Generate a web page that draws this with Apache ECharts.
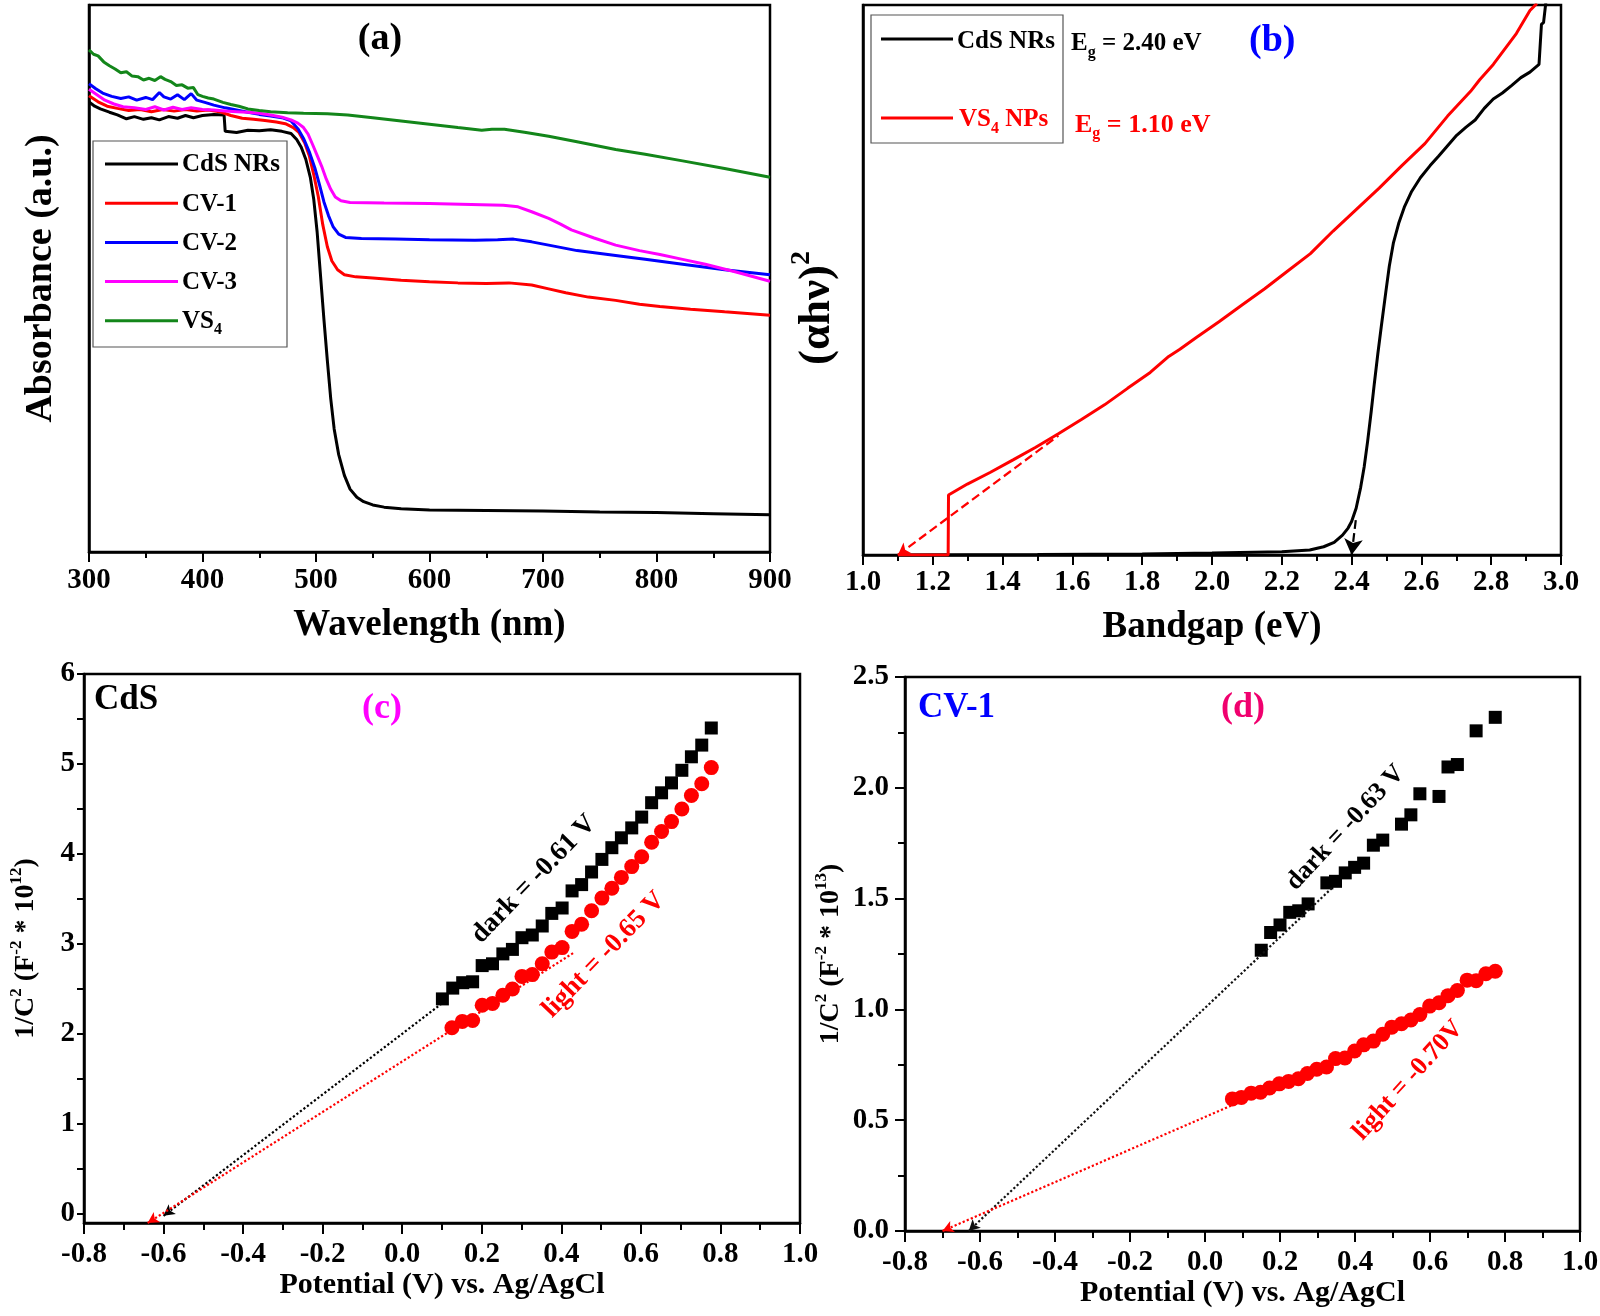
<!DOCTYPE html>
<html>
<head>
<meta charset="utf-8">
<title>CdS / VS4 optical and Mott-Schottky</title>
<script src="https://cdn.jsdelivr.net/npm/echarts@6/dist/echarts.min.js"></script>
<style>
html, body { margin: 0; padding: 0; background: #fff; }
#main { width: 1600px; height: 1316px; }
</style>
</head>
<body>
<div id="main"></div>
<script>
// ---- (a) UV-vis absorbance, [wavelength nm, absorbance a.u.] ----
var absCdS = [[300,82.3],[305,81.5],[310,81.0],[318,80.4],[325,79.9],[333,79.2],[340,79.6],[348,79.1],[355,79.4],[362,79.0],[370,79.6],[378,79.3],[385,79.8],[392,79.4],[400,79.8],[410,80.0],[419,79.9],[420,76.9],[430,76.7],[440,77.1],[450,77.0],[460,77.2],[470,76.9],[478,76.5],[483,75.4],[487,74.0],[491,71.8],[495,68.5],[498,64.5],[501,58.5],[504,50.5],[507,42.5],[510,35.0],[513,28.0],[516,22.5],[520,17.8],[525,14.0],[530,11.5],[536,10.0],[542,9.2],[550,8.6],[560,8.2],[575,7.9],[600,7.7],[650,7.6],[700,7.5],[750,7.3],[800,7.2],[850,7.0],[900,6.8]];
var absCV1 = [[300,83.4],[308,82.3],[316,81.5],[325,81.1],[335,80.7],[345,80.9],[355,80.5],[365,80.9],[375,80.6],[385,80.9],[395,80.6],[405,80.8],[415,80.5],[425,79.8],[435,79.3],[445,79.1],[455,78.9],[465,78.6],[473,78.3],[480,77.6],[485,76.7],[490,74.8],[494,72.5],[498,69.0],[502,65.0],[506,59.8],[510,55.8],[514,53.2],[519,51.6],[525,50.7],[535,50.3],[550,50.1],[575,49.7],[600,49.4],[625,49.2],[650,49.1],[670,49.2],[690,48.8],[705,48.1],[720,47.4],[740,46.6],[764,46.0],[785,45.3],[803,44.9],[830,44.4],[860,43.9],[900,43.3]];
var absCV2 = [[300,85.6],[306,84.7],[312,83.9],[320,83.3],[328,82.9],[335,83.2],[342,82.6],[350,83.1],[356,82.7],[362,84.0],[366,83.2],[372,82.8],[378,83.6],[384,82.7],[390,83.8],[395,82.6],[402,82.2],[410,81.7],[420,81.2],[430,80.8],[440,80.4],[450,80.0],[460,79.7],[470,79.4],[478,78.8],[484,77.4],[489,75.6],[494,73.2],[499,70.2],[503,67.2],[507,64.0],[511,61.5],[515,59.5],[520,58.1],[526,57.5],[540,57.3],[570,57.2],[600,57.1],[640,57.0],[660,57.1],[674,57.2],[690,56.7],[705,56.1],[730,55.1],[764,54.2],[790,53.5],[823,52.6],[860,51.6],[900,50.7]];
var absCV3 = [[300,84.6],[307,83.6],[314,82.6],[322,81.9],[330,81.4],[340,81.2],[350,80.9],[358,81.4],[366,80.8],[374,81.3],[382,80.9],[390,81.2],[400,80.9],[410,80.8],[420,80.6],[430,80.5],[440,80.4],[450,80.2],[460,79.9],[470,79.5],[478,79.0],[484,78.4],[489,77.6],[493,76.4],[497,74.5],[501,72.5],[505,70.5],[509,68.2],[513,66.3],[517,64.9],[522,64.2],[530,63.9],[560,63.8],[600,63.7],[646,63.5],[665,63.4],[678,63.1],[690,62.2],[705,61.0],[715,60.0],[725,58.9],[745,57.4],[764,56.1],[785,55.1],[803,54.4],[823,53.5],[843,52.6],[870,51.2],[900,49.5]];
var absVS4 = [[300,91.8],[304,91.0],[308,90.7],[313,89.6],[318,88.9],[323,88.3],[328,87.6],[333,87.8],[338,87.0],[343,86.9],[348,86.3],[353,86.6],[358,86.2],[363,86.9],[367,86.4],[372,86.0],[377,85.3],[382,85.4],[387,84.8],[392,84.9],[396,83.6],[400,83.3],[405,83.0],[410,82.8],[418,82.2],[425,81.8],[432,81.5],[440,81.0],[450,80.7],[460,80.5],[475,80.3],[489,80.2],[510,80.1],[528,79.9],[550,79.4],[575,78.8],[600,78.2],[625,77.6],[646,77.1],[655,77.3],[666,77.3],[685,76.7],[705,76.0],[730,75.0],[764,73.6],[790,72.7],[823,71.5],[860,70.1],[900,68.5]];
var namesA = ['CdS NRs', 'CV-1', 'CV-2', 'CV-3', 'VS{sub|4}'];
var colorsA = ['#000000', '#ff0000', '#0000ff', '#ff00ff', '#13861a'];

// ---- (b) Tauc plot, [photon energy eV, (ahv)^2] ----
var taucCdS = [[1.10,0.0],[1.50,0.1],[1.80,0.2],[2.00,0.35],[2.20,0.6],[2.28,0.9],[2.32,1.5],[2.35,2.3],[2.374,3.6],[2.39,4.9],[2.40,6.1],[2.413,8.5],[2.426,12.3],[2.436,16.0],[2.446,20.7],[2.456,26.0],[2.465,31.1],[2.475,36.5],[2.485,41.5],[2.498,47.8],[2.508,52.5],[2.520,56.8],[2.535,60.3],[2.552,63.4],[2.572,66.1],[2.597,68.6],[2.625,70.8],[2.649,72.5],[2.675,74.4],[2.701,76.3],[2.728,77.8],[2.754,79.1],[2.780,81.2],[2.806,82.9],[2.832,84.0],[2.859,85.4],[2.885,86.8],[2.911,87.8],[2.937,89.2],[2.944,96.5],[2.950,96.8],[2.957,100.7]];
var taucVS4 = [[1.10,0.0],[1.244,0.0],[1.245,10.9],[1.299,12.9],[1.364,15.0],[1.430,17.3],[1.495,19.6],[1.561,22.1],[1.627,24.7],[1.692,27.3],[1.758,30.3],[1.823,33.2],[1.876,36.1],[1.908,37.4],[1.954,39.5],[2.020,42.4],[2.085,45.4],[2.151,48.4],[2.216,51.6],[2.282,54.8],[2.347,58.9],[2.413,62.8],[2.479,66.7],[2.544,70.8],[2.610,74.8],[2.675,79.8],[2.741,84.3],[2.767,86.4],[2.806,89.2],[2.872,94.8],[2.911,99.0],[2.931,100.3]];
var fitCdS = [[2.40,0],[2.413,6.9]];
var fitVS4 = [[1.10,0],[1.56,21.7]];

// ---- (c) CdS Mott-Schottky, [potential V, 1/C^2 x1e12] ----
var msCdSDark = [[0.101,2.39],[0.127,2.51],[0.152,2.57],[0.177,2.58],[0.201,2.76],[0.227,2.78],[0.253,2.89],[0.277,2.94],[0.301,3.07],[0.327,3.10],[0.352,3.20],[0.376,3.34],[0.402,3.40],[0.427,3.59],[0.451,3.66],[0.476,3.80],[0.502,3.94],[0.527,4.07],[0.551,4.18],[0.577,4.29],[0.602,4.41],[0.627,4.57],[0.652,4.68],[0.677,4.79],[0.703,4.93],[0.727,5.08],[0.753,5.21],[0.777,5.40]];
var msCdSLight = [[0.125,2.07],[0.151,2.14],[0.177,2.15],[0.201,2.32],[0.227,2.34],[0.253,2.43],[0.277,2.50],[0.301,2.64],[0.327,2.66],[0.352,2.78],[0.376,2.91],[0.402,2.96],[0.427,3.14],[0.451,3.22],[0.476,3.37],[0.502,3.51],[0.527,3.62],[0.551,3.74],[0.577,3.86],[0.602,3.97],[0.627,4.13],[0.652,4.25],[0.677,4.36],[0.703,4.50],[0.727,4.65],[0.753,4.78],[0.777,4.96]];
var fitCdSDark = [[-0.60,-0.02],[0.10,2.34]];
var fitCdSLight = [[-0.64,-0.10],[0.43,2.90]];
var yTicksC = [0, 0.5, 1, 1.5, 2, 2.5, 3, 3.5, 4, 4.5, 5, 5.5, 6];
var yLabelsC = [0, 1, 2, 3, 4, 5, 6];

// ---- (d) CV-1 Mott-Schottky, [potential V, 1/C^2 x1e13] ----
var msCV1Dark = [[0.150,1.267],[0.175,1.347],[0.200,1.381],[0.226,1.438],[0.250,1.445],[0.275,1.476],[0.325,1.571],[0.348,1.578],[0.374,1.616],[0.399,1.641],[0.423,1.660],[0.449,1.741],[0.474,1.764],[0.524,1.836],[0.549,1.878],[0.573,1.973],[0.624,1.961],[0.648,2.094],[0.673,2.105],[0.723,2.257],[0.774,2.318]];
var msCV1Light = [[0.073,0.596],[0.097,0.603],[0.123,0.622],[0.148,0.626],[0.172,0.645],[0.198,0.664],[0.223,0.675],[0.249,0.687],[0.273,0.711],[0.298,0.730],[0.324,0.740],[0.348,0.778],[0.373,0.781],[0.399,0.812],[0.423,0.840],[0.449,0.857],[0.474,0.888],[0.498,0.920],[0.524,0.935],[0.549,0.952],[0.573,0.977],[0.599,1.015],[0.624,1.030],[0.648,1.062],[0.673,1.085],[0.699,1.132],[0.723,1.129],[0.749,1.161],[0.774,1.172]];
var fitCV1Dark = [[-0.63,0.0],[0.34,1.55]];
var fitCV1Light = [[-0.70,0.0],[0.47,0.86]];

var FONT = '"Liberation Serif", "Times New Roman", serif';

function tStyle(size, color) {
    return { fontFamily: FONT, fontWeight: 'bold', fontSize: size, color: color || '#000' };
}
function richSet(size, color) {
    var s = Math.round(size * 0.62);
    return {
        sub: { fontFamily: FONT, fontWeight: 'bold', fontSize: s, lineHeight: s, verticalAlign: 'bottom', color: color, fill: color },
        sup: { fontFamily: FONT, fontWeight: 'bold', fontSize: s, lineHeight: s, verticalAlign: 'top', color: color, fill: color }
    };
}
function fitLine(pts, color, type, size) {
    return {
        silent: true,
        symbol: ['arrow', 'none'],
        symbolSize: size,
        label: { show: false },
        lineStyle: { color: color, type: type, width: 2.2, opacity: 1 },
        data: [[{ coord: pts[0] }, { coord: pts[1] }]]
    };
}
function xAxis(grid, min, max, interval, name, nameGap, labelSize, nameSize, margin, tickLen, minorLen, digits) {
    return {
        gridIndex: grid, type: 'value', min: min, max: max, interval: interval,
        axisLine: { onZero: false, lineStyle: { color: '#000', width: 2.5 } },
        axisTick: { length: tickLen, lineStyle: { color: '#000', width: 2 } },
        minorTick: { show: true, splitNumber: 2, length: minorLen, lineStyle: { color: '#000', width: 2 } },
        splitLine: { show: false },
        axisLabel: Object.assign(tStyle(labelSize), { margin: margin, formatter: function (v) { return digits ? v.toFixed(digits) : String(v); } }),
        name: name, nameLocation: 'middle', nameGap: nameGap,
        nameTextStyle: tStyle(nameSize)
    };
}
function plainY(grid, name, nameGap, size) {
    return {
        gridIndex: grid, type: 'value', min: 0, max: 100,
        axisLine: { onZero: false, lineStyle: { color: '#000', width: 2.5 } },
        axisTick: { show: false }, axisLabel: { show: false }, splitLine: { show: false },
        name: name, nameLocation: 'middle', nameGap: nameGap,
        nameTextStyle: Object.assign(tStyle(size), { lineHeight: Math.round(size * 1.3), rich: richSet(size, '#000') })
    };
}
function gridBox(left, top, width, height) {
    return { left: left, top: top, width: width, height: height, containLabel: false, outerBoundsMode: 'none',
             show: true, borderColor: '#000', borderWidth: 2.5, backgroundColor: 'transparent' };
}

var seriesA = [absCdS, absCV1, absCV2, absCV3, absVS4].map(function (d, i) {
    return { name: namesA[i].replace('{sub|4}', '4'), type: 'line', xAxisIndex: 0, yAxisIndex: 0, data: d,
             showSymbol: false, lineStyle: { color: colorsA[i], width: 3 }, itemStyle: { color: colorsA[i] } };
});

var chart = echarts.init(document.getElementById('main'), null, { renderer: 'canvas' });
chart.setOption({
    animation: false,
    backgroundColor: '#fff',
    grid: [gridBox(89, 5, 681, 547), gridBox(863, 5, 698, 550), gridBox(84, 674, 716, 549), gridBox(905, 677, 675, 554)],
    xAxis: [
        xAxis(0, 300, 900, 100, 'Wavelength (nm)', 55, 29, 37, 14, 10, 6, 0),
        xAxis(1, 1.0, 3.0, 0.2, 'Bandgap (eV)', 54, 29, 37, 13, 10, 6, 1),
        xAxis(2, -0.8, 1.0, 0.2, 'Potential (V) vs. Ag/AgCl', 45, 29, 30, 17, 11, 7, 1),
        xAxis(3, -0.8, 1.0, 0.2, 'Potential (V) vs. Ag/AgCl', 45, 29, 30, 17, 11, 7, 1)
    ],
    yAxis: [
        plainY(0, 'Absorbance (a.u.)', 23, 38),
        {
            gridIndex: 1, type: 'value', min: 0, max: 100,
            axisLine: { onZero: false, lineStyle: { color: '#000', width: 2.5 } },
            axisTick: { show: false }, axisLabel: { show: false }, splitLine: { show: false },
            name: '(αhν){sup|2}', nameLocation: 'middle', nameGap: 17,
            nameTextStyle: Object.assign(tStyle(45), { lineHeight: 58, padding: [0, 56, 0, 0], rich: richSet(45, '#000') })
        },
        {
            gridIndex: 2, type: 'value', min: -0.1, max: 6,
            axisLine: { onZero: false, lineStyle: { color: '#000', width: 2.5 } },
            axisTick: { length: 7, customValues: yTicksC, lineStyle: { color: '#000', width: 2 } },
            axisLabel: Object.assign(tStyle(29), { margin: 9, customValues: yLabelsC }),
            splitLine: { show: false },
            name: '1/C{sup|2} (F{sup|-2} * 10{sup|12})', nameLocation: 'middle', nameGap: 40,
            nameTextStyle: Object.assign(tStyle(28), { lineHeight: 36, rich: richSet(28, '#000') })
        },
        {
            gridIndex: 3, type: 'value', min: 0, max: 2.5, interval: 0.5,
            axisLine: { onZero: false, lineStyle: { color: '#000', width: 2.5 } },
            axisTick: { length: 10, lineStyle: { color: '#000', width: 2 } },
            minorTick: { show: true, splitNumber: 2, length: 7, lineStyle: { color: '#000', width: 2 } },
            axisLabel: Object.assign(tStyle(29), { margin: 16, formatter: function (v) { return v.toFixed(1); } }),
            splitLine: { show: false },
            name: '1/C{sup|2} (F{sup|-2} * 10{sup|13})', nameLocation: 'middle', nameGap: 40,
            nameTextStyle: Object.assign(tStyle(28), { lineHeight: 36, rich: richSet(28, '#000') })
        }
    ],
    series: seriesA.concat([
        { name: 'CdS NRs', type: 'line', xAxisIndex: 1, yAxisIndex: 1, data: taucCdS, showSymbol: false,
          lineStyle: { color: '#000', width: 3 }, itemStyle: { color: '#000' },
          markLine: fitLine(fitCdS, '#000', 'dashed', [14, 16]) },
        { name: 'VS4 NPs', type: 'line', xAxisIndex: 1, yAxisIndex: 1, data: taucVS4, showSymbol: false,
          lineStyle: { color: '#ff0000', width: 3 }, itemStyle: { color: '#ff0000' },
          markLine: fitLine(fitVS4, '#ff0000', 'dashed', [10, 12]) },
        { name: 'CdS dark', type: 'scatter', xAxisIndex: 2, yAxisIndex: 2, data: msCdSDark, symbol: 'rect', symbolSize: 13,
          itemStyle: { color: '#000', opacity: 1 }, markLine: fitLine(fitCdSDark, '#000', 'dotted', [9, 11]) },
        { name: 'CdS light', type: 'scatter', xAxisIndex: 2, yAxisIndex: 2, data: msCdSLight, symbol: 'circle', symbolSize: 15,
          itemStyle: { color: '#ff0000', opacity: 1 }, markLine: fitLine(fitCdSLight, '#ff0000', 'dotted', [9, 11]) },
        { name: 'CV-1 dark', type: 'scatter', xAxisIndex: 3, yAxisIndex: 3, data: msCV1Dark, symbol: 'rect', symbolSize: 13,
          itemStyle: { color: '#000', opacity: 1 }, markLine: fitLine(fitCV1Dark, '#111', 'dotted', [9, 11]) },
        { name: 'CV-1 light', type: 'scatter', xAxisIndex: 3, yAxisIndex: 3, data: msCV1Light, symbol: 'circle', symbolSize: 15,
          itemStyle: { color: '#ff0000', opacity: 1 }, markLine: fitLine(fitCV1Light, '#ff0000', 'dotted', [9, 11]) }
    ])
});

// ---- annotations ----
function gText(x, y, text, size, color, align, rotDeg) {
    var rich = richSet(size, color);
    return {
        type: 'text', x: x, y: y, z: 100, silent: true,
        rotation: (rotDeg || 0) * Math.PI / 180,
        style: {
            text: text, fill: color, fontFamily: FONT, fontWeight: 'bold', fontSize: size,
            lineHeight: Math.round(size * 1.3),
            align: align || 'left', verticalAlign: 'middle',
            textAlign: align || 'left', textVerticalAlign: 'middle',
            rich: rich
        }
    };
}
function gLine(x1, y1, x2, y2, color) {
    return { type: 'line', z: 100, silent: true, shape: { x1: x1, y1: y1, x2: x2, y2: y2 }, style: { stroke: color, lineWidth: 3 } };
}
function gBox(x, y, w, h) {
    return { type: 'rect', z: 99, silent: true, shape: { x: x, y: y, width: w, height: h }, style: { fill: 'none', stroke: '#555', lineWidth: 1.2 } };
}
function px(grid, pt) { return chart.convertToPixel({ gridIndex: grid }, pt); }

var g = [];
// (a)
g.push(gText(380, 39, '(a)', 38, '#000', 'center'));
g.push(gBox(93, 141, 194, 206));
namesA.forEach(function (n, i) {
    var y = 164 + i * 39.2;
    g.push(gLine(105, y, 178, y, colorsA[i]));
    g.push(gText(182, y + 1, n, 25, '#000', 'left'));
});
// (b)
g.push(gBox(871, 15, 192, 128));
g.push(gLine(881, 39, 953, 39, '#000'));
g.push(gText(957, 42, 'CdS NRs', 25, '#000', 'left'));
g.push(gLine(881, 118, 953, 118, '#ff0000'));
g.push(gText(959, 120, 'VS{sub|4} NPs', 25, '#ff0000', 'left'));
g.push(gText(1071, 44, 'E{sub|g} = 2.40 eV', 25, '#000', 'left'));
g.push(gText(1249, 41, '(b)', 38, '#0000ff', 'left'));
g.push(gText(1075, 125, 'E{sub|g} = 1.10 eV', 26, '#ff0000', 'left'));
// (c)
g.push(gText(94, 700, 'CdS', 35, '#000', 'left'));
g.push(gText(382, 709, '(c)', 36, '#ff00ff', 'center'));
var p = px(2, [0.331, 3.72]);
g.push(gText(p[0], p[1], 'dark = -0.61 V', 27, '#000', 'center', 46));
p = px(2, [0.507, 2.88]);
g.push(gText(p[0], p[1], 'light = -0.65 V', 27, '#ff0000', 'center', 46));
// (d)
g.push(gText(918, 708, 'CV-1', 35, '#0000ff', 'left'));
g.push(gText(1243, 708, '(d)', 36, '#f0006e', 'center'));
p = px(3, [0.375, 1.82]);
g.push(gText(p[0], p[1], 'dark = -0.63 V', 26, '#000', 'center', 47));
p = px(3, [0.542, 0.68]);
g.push(gText(p[0], p[1], 'light = -0.70V', 26, '#ff0000', 'center', 48));

chart.setOption({ graphic: g });
</script>
</body>
</html>
